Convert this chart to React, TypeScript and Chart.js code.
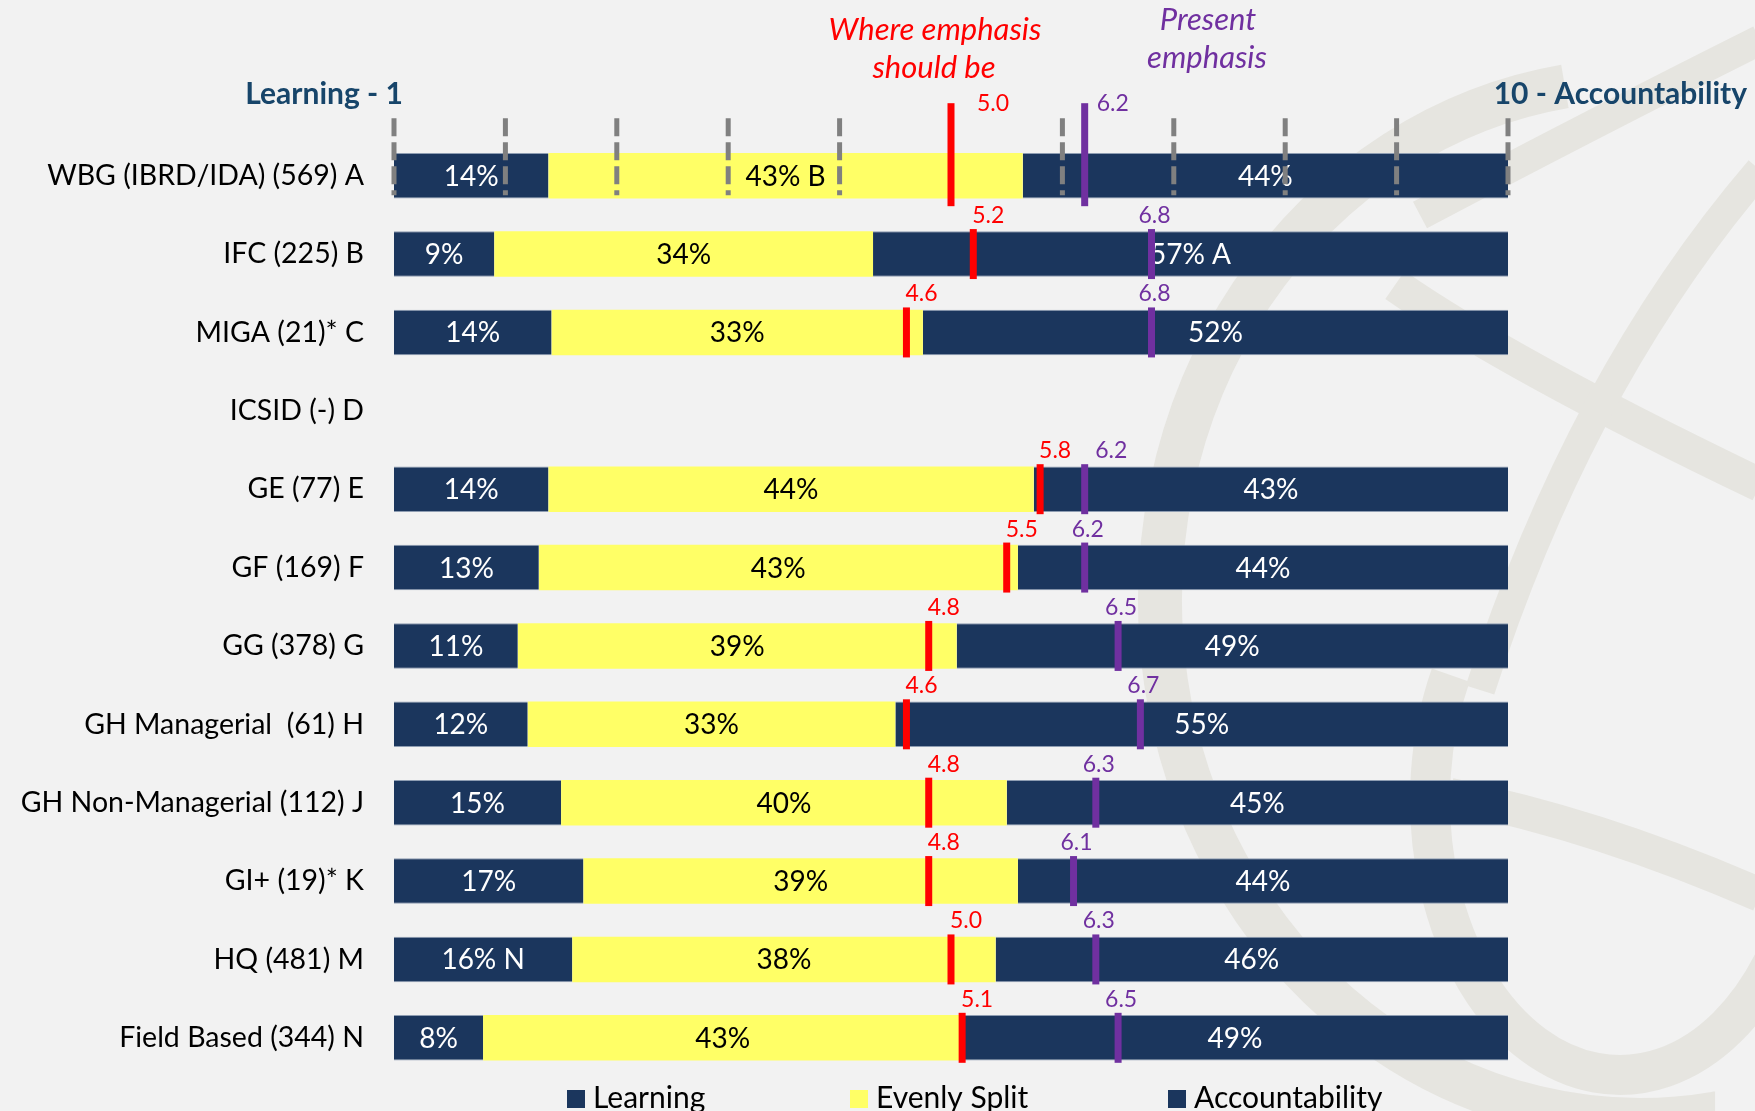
import React, { useEffect, useRef } from 'react';
import { Chart, registerables } from 'chart.js';

Chart.register(...registerables);

// ---------------- data ----------------
const categories = [
  'WBG (IBRD/IDA) (569) A',
  'IFC (225) B',
  'MIGA (21)* C',
  'ICSID (-) D',
  'GE (77) E',
  'GF (169) F',
  'GG (378) G',
  'GH Managerial  (61) H',
  'GH Non-Managerial (112) J',
  'GI+ (19)* K',
  'HQ (481) M',
  'Field Based (344) N',
];
const seriesNames = ['Learning', 'Evenly Split', 'Accountability'];
const learningPct = [14, 9, 14, null, 14, 13, 11, 12, 15, 17, 16, 8];
const evenlyPct = [43, 34, 33, null, 44, 43, 39, 33, 40, 39, 38, 43];
const accountPct = [44, 57, 52, null, 43, 44, 49, 55, 45, 44, 46, 49];
const learningNote = ['', '', '', '', '', '', '', '', '', '', 'N', ''];
const evenlyNote = ['B', '', '', '', '', '', '', '', '', '', '', ''];
const accountNote = ['', 'A', '', '', '', '', '', '', '', '', '', ''];
const shouldBe = [5.0, 5.2, 4.6, null, 5.8, 5.5, 4.8, 4.6, 4.8, 4.8, 5.0, 5.1];
const present = [6.2, 6.8, 6.8, null, 6.2, 6.2, 6.5, 6.7, 6.3, 6.1, 6.3, 6.5];
const scaleValues = [0, 1, 2, 3, 4, 5, 6, 7, 8, 9, 10];
const scaleLeftLabel = 'Learning - 1';
const scaleRightLabel = '10 - Accountability';
const shouldBeTitle = ['Where emphasis', 'should be'];
const presentTitle = ['Present', 'emphasis'];

// ---------------- styles ----------------
const FONT = 'Lato';
const NAVY = '#1B365D';
const YELLOW = '#FFFF66';
const RED = '#FF0000';
const PURPLE = '#7030A0';
const HEADER = '#17456A';
const BG = '#F2F2F2';
const WATERMARK = '#E6E5E0';

const pctLists = [learningPct, evenlyPct, accountPct];
const noteLists = [learningNote, evenlyNote, accountNote];
const rowTotals = categories.map((_, i) =>
  pctLists.reduce((s, l) => s + (l[i] ?? 0), 0)
);
const normalized = (list: (number | null)[]) =>
  list.map((v, i) => (v == null ? null : (v / rowTotals[i]) * 100));

const markerData = (list: (number | null)[]) =>
  list
    .map((v, i) => (v == null ? null : { x: v, y: categories[i], row: i }))
    .filter((d) => d !== null) as { x: number; y: string; row: number }[];

const markerRadius = (ctx: any) => (ctx.raw && ctx.raw.row === 0 ? 51.5 : 25);

const decorPlugin = {
  id: 'decor',
  beforeDraw(chart: any) {
    const { ctx, width, height } = chart;
    ctx.save();
    ctx.fillStyle = BG;
    ctx.fillRect(0, 0, width, height);
    // faint globe watermark
    ctx.strokeStyle = WATERMARK;
    ctx.lineCap = 'butt';
    ctx.lineWidth = 44;
    ctx.beginPath();
    ctx.ellipse(1640, 600, 480, 520, 0, -0.55 * Math.PI, 0.45 * Math.PI, true);
    ctx.stroke();
    ctx.lineWidth = 40;
    ctx.beginPath();
    ctx.ellipse(1620, 800, 190, 275, 0, 1.15 * Math.PI, 0.2 * Math.PI, true);
    ctx.stroke();
    ctx.lineWidth = 34;
    ctx.beginPath();
    ctx.moveTo(1395, 285);
    ctx.quadraticCurveTo(1510, 365, 1760, 485);
    ctx.stroke();
    ctx.beginPath();
    ctx.moveTo(1450, 795);
    ctx.quadraticCurveTo(1600, 825, 1760, 895);
    ctx.stroke();
    ctx.lineWidth = 30;
    ctx.beginPath();
    ctx.moveTo(1480, 690);
    ctx.quadraticCurveTo(1580, 380, 1760, 170);
    ctx.stroke();
    ctx.beginPath();
    ctx.moveTo(1420, 215);
    ctx.quadraticCurveTo(1600, 120, 1760, 40);
    ctx.stroke();
    ctx.restore();
  },
  afterDatasetsUpdate(chart: any) {
    [3, 4].forEach((di) => {
      const meta = chart.getDatasetMeta(di);
      const ds = chart.data.datasets[di];
      meta.data.forEach((el: any, j: number) => {
        if (ds.data[j].row === 0) el.y -= 21;
      });
    });
  },
  afterDatasetDraw(chart: any, args: any) {
    if (args.index !== 0) return;
    const { ctx } = chart;
    ctx.save();
    // percentage labels inside segments
    ctx.textAlign = 'center';
    ctx.textBaseline = 'middle';
    ctx.font = `28px ${FONT}`;
    [0, 1, 2].forEach((di) => {
      const meta = chart.getDatasetMeta(di);
      meta.data.forEach((el: any, i: number) => {
        const v = pctLists[di][i];
        if (v == null) return;
        const note = noteLists[di][i];
        const cx = (el.x + el.base) / 2;
        ctx.fillStyle = di === 1 ? '#000000' : '#FFFFFF';
        ctx.fillText(`${v}%${note ? ' ' + note : ''}`, cx, el.y + 1);
      });
    });
    // dashed scale lines on first row
    const x2 = chart.scales.x2;
    const yc = chart.scales.y.getPixelForValue(0);
    ctx.strokeStyle = '#808080';
    ctx.lineWidth = 5;
    ctx.setLineDash([18, 6]);
    scaleValues.forEach((v) => {
      const x = x2.getPixelForValue(v);
      ctx.beginPath();
      ctx.moveTo(x, yc - 57.5);
      ctx.lineTo(x, yc + 19.5);
      ctx.stroke();
    });
    ctx.restore();
  },
  afterDraw(chart: any) {
    const { ctx, chartArea } = chart;
    ctx.save();
    // marker value labels
    ctx.font = `23px ${FONT}`;
    const red = chart.getDatasetMeta(3);
    const pur = chart.getDatasetMeta(4);
    const redDs = chart.data.datasets[3].data;
    const purDs = chart.data.datasets[4].data;
    const redRight: Record<number, number> = {};
    red.data.forEach((el: any, j: number) => {
      const row = redDs[j].row;
      const r = markerRadius({ raw: redDs[j] });
      const top = el.y - r;
      const text = redDs[j].x.toFixed(1);
      ctx.fillStyle = RED;
      if (row === 0) {
        ctx.textAlign = 'left';
        ctx.textBaseline = 'middle';
        ctx.fillText(text, el.x + 26, top);
      } else {
        ctx.textAlign = 'center';
        ctx.textBaseline = 'alphabetic';
        const cx = el.x + 15;
        ctx.fillText(text, cx, top - 6);
        redRight[row] = cx + ctx.measureText(text).width / 2;
      }
    });
    pur.data.forEach((el: any, j: number) => {
      const row = purDs[j].row;
      const r = markerRadius({ raw: purDs[j] });
      const top = el.y - r;
      const text = purDs[j].x.toFixed(1);
      ctx.fillStyle = PURPLE;
      if (row === 0) {
        ctx.textAlign = 'left';
        ctx.textBaseline = 'middle';
        ctx.fillText(text, el.x + 12, top);
      } else {
        ctx.textAlign = 'center';
        ctx.textBaseline = 'alphabetic';
        const w = ctx.measureText(text).width;
        let cx = el.x + 3;
        if (redRight[row] != null && cx - w / 2 < redRight[row] + 24) cx = redRight[row] + 24 + w / 2;
        ctx.fillText(text, cx, top - 6);
      }
    });
    // scale end labels
    ctx.font = `bold 30px ${FONT}`;
    ctx.fillStyle = HEADER;
    ctx.textBaseline = 'alphabetic';
    ctx.textAlign = 'right';
    ctx.fillText(scaleLeftLabel, chartArea.left + 9, 104);
    ctx.fillText(scaleRightLabel, 1747, 104);
    // titles
    ctx.font = `italic 31px ${FONT}`;
    ctx.textAlign = 'center';
    ctx.fillStyle = RED;
    ctx.fillText(shouldBeTitle[0], 935, 40);
    ctx.fillText(shouldBeTitle[1], 934, 78);
    ctx.fillStyle = PURPLE;
    ctx.fillText(presentTitle[0], 1208, 30);
    ctx.fillText(presentTitle[1], 1207, 68);
    // legend
    const legendX = [567, 850, 1168];
    const legendColors = [NAVY, YELLOW, NAVY];
    ctx.font = `30px ${FONT}`;
    ctx.textAlign = 'left';
    seriesNames.forEach((name, i) => {
      ctx.fillStyle = legendColors[i];
      ctx.fillRect(legendX[i], 1090, 18, 18);
      ctx.fillStyle = '#000000';
      ctx.fillText(name, legendX[i] + 26, 1108);
    });
    ctx.restore();
  },
};

export default function App() {
  const ref = useRef<HTMLCanvasElement>(null);
  useEffect(() => {
    document.body.style.margin = '0';
    const canvas = ref.current!;
    const navyBorder = { top: 1, bottom: 1, left: 0, right: 0 };
    const chart = new Chart(canvas, {
      type: 'bar',
      data: {
        labels: categories,
        datasets: [
          {
            label: seriesNames[0],
            data: normalized(learningPct),
            backgroundColor: NAVY,
            borderColor: '#8E9DB2',
            borderWidth: navyBorder,
            borderSkipped: false,
            order: 1,
          },
          {
            label: seriesNames[1],
            data: normalized(evenlyPct),
            backgroundColor: YELLOW,
            borderWidth: 0,
            order: 1,
          },
          {
            label: seriesNames[2],
            data: normalized(accountPct),
            backgroundColor: NAVY,
            borderColor: '#8E9DB2',
            borderWidth: navyBorder,
            borderSkipped: false,
            order: 1,
          },
          {
            type: 'scatter',
            label: 'Where emphasis should be',
            data: markerData(shouldBe),
            xAxisID: 'x2',
            yAxisID: 'y',
            pointStyle: 'line',
            rotation: 90,
            radius: markerRadius,
            borderColor: RED,
            backgroundColor: RED,
            borderWidth: 7,
            clip: false,
            order: 0,
          } as any,
          {
            type: 'scatter',
            label: 'Present emphasis',
            data: markerData(present),
            xAxisID: 'x2',
            yAxisID: 'y',
            pointStyle: 'line',
            rotation: 90,
            radius: markerRadius,
            borderColor: PURPLE,
            backgroundColor: PURPLE,
            borderWidth: 7,
            clip: false,
            order: 0,
          } as any,
        ],
      },
      options: {
        indexAxis: 'y',
        responsive: false,
        animation: false,
        devicePixelRatio: 1,
        events: [],
        layout: { autoPadding: false, padding: { left: 0, right: 247, top: 136.5, bottom: 34 } },
        datasets: { bar: { barPercentage: 0.582, categoryPercentage: 1 } },
        plugins: { legend: { display: false }, tooltip: { enabled: false } },
        scales: {
          x: { stacked: true, min: 0, max: 100, display: false },
          x2: { type: 'linear', position: 'bottom', min: 0, max: 10, display: false },
          y: {
            stacked: true,
            grid: { display: false, drawTicks: false },
            border: { display: false },
            ticks: {
              color: '#000000',
              padding: 30,
              font: { family: FONT, size: 28.5 },
            },
            afterFit: (scale: any) => {
              scale.width = 394;
              scale.paddingTop = 0;
              scale.paddingBottom = 0;
            },
          },
        },
      } as any,
      plugins: [decorPlugin],
    });
    return () => chart.destroy();
  }, []);
  return (
    <div style={{ position: 'fixed', left: 0, top: 0, width: 1755, height: 1111, background: BG }}>
      <canvas ref={ref} width={1755} height={1111} style={{ display: 'block', width: 1755, height: 1111 }} />
    </div>
  );
}
